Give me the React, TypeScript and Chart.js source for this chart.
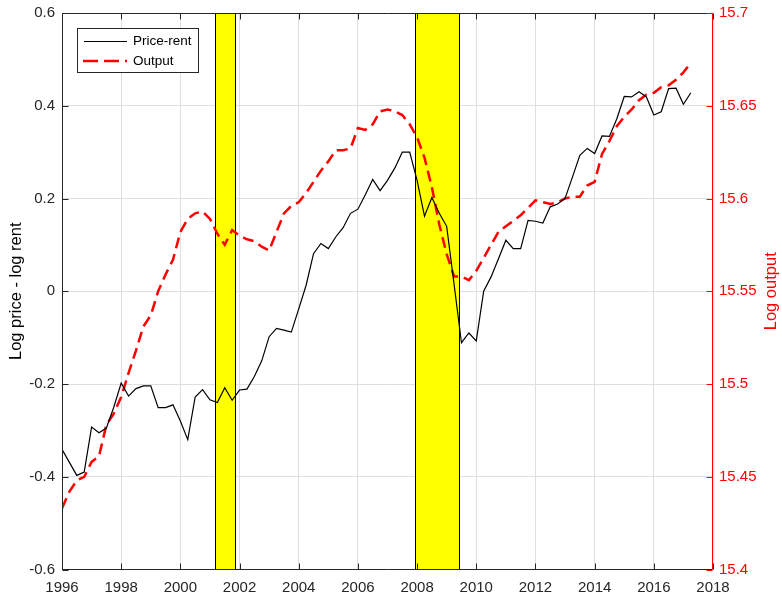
import React, { useEffect, useRef } from "react";
import { Chart, registerables } from "chart.js";

Chart.register(...registerables);

const quarters = [
  1996, 1996.25, 1996.5, 1996.75, 1997, 1997.25, 1997.5, 1997.75,
  1998, 1998.25, 1998.5, 1998.75, 1999, 1999.25, 1999.5, 1999.75,
  2000, 2000.25, 2000.5, 2000.75, 2001, 2001.25, 2001.5, 2001.75,
  2002, 2002.25, 2002.5, 2002.75, 2003, 2003.25, 2003.5, 2003.75,
  2004, 2004.25, 2004.5, 2004.75, 2005, 2005.25, 2005.5, 2005.75,
  2006, 2006.25, 2006.5, 2006.75, 2007, 2007.25, 2007.5, 2007.75,
  2008, 2008.25, 2008.5, 2008.75, 2009, 2009.25, 2009.5, 2009.75,
  2010, 2010.25, 2010.5, 2010.75, 2011, 2011.25, 2011.5, 2011.75,
  2012, 2012.25, 2012.5, 2012.75, 2013, 2013.25, 2013.5, 2013.75,
  2014, 2014.25, 2014.5, 2014.75, 2015, 2015.25, 2015.5, 2015.75,
  2016, 2016.25, 2016.5, 2016.75, 2017, 2017.25,
];

const priceRent = [
  -0.341, -0.369, -0.397, -0.39, -0.293, -0.305, -0.295, -0.25,
  -0.198, -0.226, -0.21, -0.204, -0.204, -0.251, -0.251, -0.245,
  -0.28, -0.32, -0.228, -0.212, -0.234, -0.24, -0.208, -0.235,
  -0.213, -0.211, -0.184, -0.15, -0.098, -0.08, -0.084, -0.088,
  -0.038, 0.013, 0.081, 0.103, 0.092, 0.117, 0.137, 0.168,
  0.177, 0.208, 0.241, 0.217, 0.239, 0.266, 0.3, 0.3,
  0.239, 0.162, 0.202, 0.168, 0.14, 0.015, -0.111, -0.09,
  -0.107, 0.0, 0.031, 0.07, 0.11, 0.092, 0.092, 0.153,
  0.151, 0.147, 0.182, 0.188, 0.2, 0.246, 0.293, 0.308,
  0.297, 0.335, 0.334, 0.372, 0.42, 0.419, 0.43, 0.419,
  0.38, 0.387, 0.437, 0.438, 0.403, 0.428,
];

const output = [
  15.433, 15.442, 15.448, 15.45, 15.458, 15.461, 15.478, 15.484,
  15.493, 15.506, 15.518, 15.531, 15.537, 15.55, 15.559, 15.567,
  15.582, 15.589, 15.592, 15.593, 15.589, 15.581, 15.575, 15.583,
  15.58, 15.578, 15.577, 15.574, 15.572, 15.582, 15.592, 15.596,
  15.598, 15.603, 15.609, 15.615, 15.62, 15.626, 15.626, 15.627,
  15.638, 15.637, 15.64, 15.647, 15.648, 15.647, 15.645, 15.64,
  15.633, 15.622, 15.606, 15.586, 15.57, 15.558, 15.558, 15.556,
  15.561, 15.568, 15.575, 15.582, 15.585, 15.588, 15.591, 15.595,
  15.599, 15.598, 15.597, 15.598, 15.6, 15.601, 15.601, 15.607,
  15.609, 15.624, 15.631, 15.639, 15.644, 15.648, 15.653, 15.656,
  15.657, 15.66, 15.661, 15.664, 15.668, 15.673,
];

const recessionStart = [2001.17, 2007.92];
const recessionEnd = [2001.83, 2009.42];

const seriesNames = ["Price-rent", "Output"];
const leftTitle = "Log price - log rent";
const rightTitle = "Log output";

const FONT = "'Liberation Sans', Arial, Helvetica, sans-serif";
const AXIS_COLOR = "#262626";
const RED = "#ff0000";

const fmt = (v: number) => {
  const n = Math.round(v * 100) / 100;
  return n === 0 ? "0" : String(n);
};

const decorPlugin = {
  id: "decor",
  beforeDatasetsDraw(chart: any) {
    const { ctx, chartArea } = chart;
    const xs = chart.scales.x;
    ctx.save();
    for (let i = 0; i < recessionStart.length; i++) {
      const x0 = Math.round(xs.getPixelForValue(recessionStart[i])) + 0.5;
      const x1 = Math.round(xs.getPixelForValue(recessionEnd[i])) + 0.5;
      ctx.fillStyle = "#ffff00";
      ctx.fillRect(x0, chartArea.top, x1 - x0, chartArea.bottom - chartArea.top);
      ctx.strokeStyle = "#000000";
      ctx.lineWidth = 1;
      ctx.strokeRect(x0, chartArea.top + 0.5, x1 - x0, chartArea.bottom - chartArea.top - 0.5);
    }
    ctx.restore();
  },
  afterDraw(chart: any) {
    const { ctx, chartArea } = chart;
    const { left, right, top, bottom } = chartArea;
    const xs = chart.scales.x;
    const ys = chart.scales.y;
    const y1 = chart.scales.y1;
    const L = Math.round(left) + 0.5;
    const R = Math.round(right) - 0.5;
    const T = Math.round(top) + 0.5;
    const B = Math.round(bottom) - 0.5;
    const tl = 6;
    ctx.save();
    ctx.lineWidth = 1;
    ctx.strokeStyle = AXIS_COLOR;
    ctx.beginPath();
    ctx.moveTo(L, T);
    ctx.lineTo(R, T);
    ctx.moveTo(L, B);
    ctx.lineTo(R, B);
    ctx.moveTo(L, T);
    ctx.lineTo(L, B);
    xs.ticks.forEach((t: any) => {
      const px = Math.round(xs.getPixelForValue(t.value)) + 0.5;
      ctx.moveTo(px, B);
      ctx.lineTo(px, B - tl);
      ctx.moveTo(px, T);
      ctx.lineTo(px, T + tl);
    });
    ys.ticks.forEach((t: any) => {
      const py = Math.round(ys.getPixelForValue(t.value)) + 0.5;
      ctx.moveTo(L, py);
      ctx.lineTo(L + tl, py);
    });
    ctx.stroke();
    ctx.strokeStyle = RED;
    ctx.beginPath();
    ctx.moveTo(R, T);
    ctx.lineTo(R, B);
    y1.ticks.forEach((t: any) => {
      const py = Math.round(y1.getPixelForValue(t.value)) + 0.5;
      ctx.moveTo(R, py);
      ctx.lineTo(R - tl, py);
    });
    ctx.stroke();

    const midY = (top + bottom) / 2;
    ctx.font = `16.5px ${FONT}`;
    ctx.textAlign = "center";
    ctx.textBaseline = "middle";
    ctx.fillStyle = "#000000";
    ctx.save();
    ctx.translate(16, midY);
    ctx.rotate(-Math.PI / 2);
    ctx.fillText(leftTitle, 0, 0);
    ctx.restore();
    ctx.fillStyle = RED;
    ctx.save();
    ctx.translate(771, midY);
    ctx.rotate(-Math.PI / 2);
    ctx.fillText(rightTitle, 0, 0);
    ctx.restore();

    const bx = 77.5, by = 28.5, bw = 121, bh = 44;
    ctx.fillStyle = "#ffffff";
    ctx.fillRect(bx, by, bw, bh);
    ctx.strokeStyle = AXIS_COLOR;
    ctx.strokeRect(bx, by, bw, bh);
    ctx.strokeStyle = "#000000";
    ctx.lineWidth = 1.2;
    ctx.beginPath();
    ctx.moveTo(84, 41.5);
    ctx.lineTo(127, 41.5);
    ctx.stroke();
    ctx.strokeStyle = RED;
    ctx.lineWidth = 2.5;
    ctx.setLineDash([15, 6]);
    ctx.beginPath();
    ctx.moveTo(83, 61);
    ctx.lineTo(127, 61);
    ctx.stroke();
    ctx.setLineDash([]);
    ctx.fillStyle = "#000000";
    ctx.font = `13.5px ${FONT}`;
    ctx.textAlign = "left";
    ctx.textBaseline = "middle";
    ctx.fillText(seriesNames[0], 133, 41.5);
    ctx.fillText(seriesNames[1], 133, 61);
    ctx.restore();
  },
};

export default function App() {
  const ref = useRef<HTMLCanvasElement | null>(null);
  useEffect(() => {
    if (!ref.current) return;
    const tickFont = { family: FONT, size: 15 };
    const chart = new Chart(ref.current, {
      type: "line",
      data: {
        datasets: [
          {
            label: seriesNames[0],
            data: quarters.map((q, i) => ({ x: q, y: priceRent[i] })),
            borderColor: "#000000",
            borderWidth: 1.2,
            pointRadius: 0,
            tension: 0,
            yAxisID: "y",
          },
          {
            label: seriesNames[1],
            data: quarters.map((q, i) => ({ x: q, y: output[i] })),
            borderColor: RED,
            borderWidth: 2.5,
            borderDash: [11, 6],
            pointRadius: 0,
            tension: 0,
            yAxisID: "y1",
          },
        ],
      },
      options: {
        responsive: false,
        animation: false,
        devicePixelRatio: 1,
        layout: { padding: { top: 13, left: 0, right: 0, bottom: 0 } },
        plugins: {
          legend: { display: false },
          tooltip: { enabled: false },
        },
        scales: {
          x: {
            type: "linear",
            position: "bottom",
            min: 1996,
            max: 2018,
            afterFit: (s: any) => {
              s.height = 25.5;
              s.paddingLeft = 0;
              s.paddingRight = 0;
            },
            ticks: {
              stepSize: 2,
              padding: 9,
              color: AXIS_COLOR,
              font: tickFont,
              maxRotation: 0,
              autoSkip: false,
              callback: (v: any) => String(v),
            },
            grid: { color: "#dfdfdf", drawTicks: false, lineWidth: 1 },
            border: { display: false },
          },
          y: {
            type: "linear",
            position: "left",
            min: -0.6,
            max: 0.6,
            afterFit: (s: any) => {
              s.width = 62;
              s.paddingTop = 0;
              s.paddingBottom = 0;
            },
            ticks: {
              stepSize: 0.2,
              padding: 7,
              color: AXIS_COLOR,
              font: tickFont,
              callback: (v: any) => fmt(Number(v)),
            },
            grid: { color: "#dfdfdf", drawTicks: false, lineWidth: 1 },
            border: { display: false },
          },
          y1: {
            type: "linear",
            position: "right",
            min: 15.4,
            max: 15.7,
            afterFit: (s: any) => {
              s.width = 69;
              s.paddingTop = 0;
              s.paddingBottom = 0;
            },
            ticks: {
              stepSize: 0.05,
              padding: 6,
              color: RED,
              font: tickFont,
              callback: (v: any) => fmt(Number(v)),
            },
            grid: { display: false, drawTicks: false },
            border: { display: false },
          },
        },
      },
      plugins: [decorPlugin],
    } as any);
    return () => chart.destroy();
  }, []);
  return (
    <div style={{ position: "absolute", left: 0, top: 0, width: 782, height: 595, background: "#ffffff" }}>
      <canvas ref={ref} width={782} height={595} style={{ width: 782, height: 595, display: "block" }} />
    </div>
  );
}
